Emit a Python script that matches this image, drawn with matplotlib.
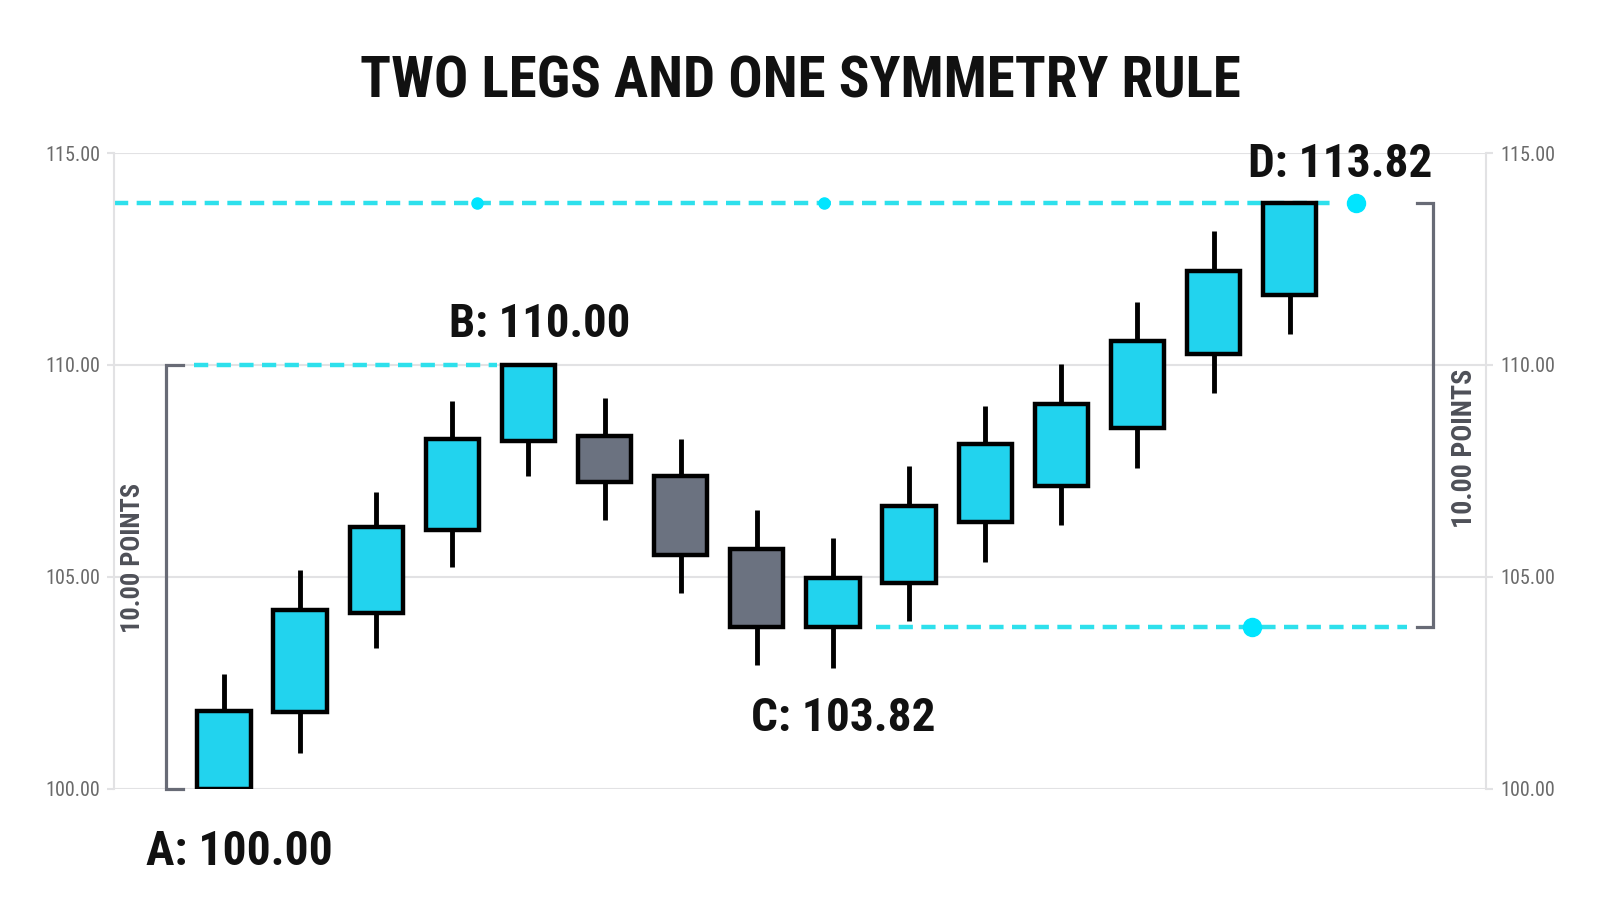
import numpy as np
import matplotlib
matplotlib.use("Agg")
import matplotlib.pyplot as plt
from matplotlib import font_manager

# OHLC for the 15 candles
opens = [100.00, 101.82, 104.16, 106.10, 108.21, 108.33, 107.37, 105.65,
         103.82, 104.86, 106.29, 107.15, 108.52, 110.26, 111.65]
closes = [101.84, 104.23, 106.17, 108.25, 110.00, 107.25, 105.53, 103.82,
          104.98, 106.67, 108.13, 109.09, 110.57, 112.22, 113.82]
highs = [102.70, 105.17, 107.01, 109.14, 110.00, 109.23, 108.25, 106.58,
         105.91, 107.61, 109.04, 110.02, 111.48, 113.16, 113.82]
lows = [100.00, 100.86, 103.33, 105.24, 107.39, 106.34, 104.62, 102.92,
        102.85, 103.95, 105.36, 106.22, 107.58, 109.33, 110.72]

# swing points
point_names = ["A", "B", "C", "D"]
point_values = [100.00, 110.00, 103.82, 113.82]
leg_size = 10.00

yticks = [100, 105, 110, 115]
title = "TWO LEGS AND ONE SYMMETRY RULE"

CYAN = "#22D3EE"
GRAY = "#6B7280"
DASH = "#2EE0EC"
DOT = "#00E5FF"
BRACKET = "#686B76"
GRID = "#E2E2E4"


def pick_condensed():
    """Find a narrow bold face if one is installed."""
    names = {f.name for f in font_manager.fontManager.ttflist}
    for n in ["Roboto Condensed", "Liberation Sans Narrow"]:
        if n in names:
            return {"family": n, "stretch": "normal"}
    for f in font_manager.fontManager.ttflist:
        if f.name == "DejaVu Sans" and "condensed" in str(f.stretch):
            return {"family": "DejaVu Sans", "stretch": "condensed"}
    return {"family": "Roboto", "stretch": "normal"}


cfont = pick_condensed()

fig = plt.figure(figsize=(16, 9.14), dpi=100)
ax = fig.add_axes([0.07125, 0.1368, 0.8575, 0.6958])
ax.set_xlim(-1.445, 16.58)
ax.set_ylim(100, 115)

x = np.arange(len(opens))
o = np.array(opens)
c = np.array(closes)
colors = [CYAN if cc >= oo else GRAY for oo, cc in zip(o, c)]

# wicks, then bodies on top
ax.vlines(x, lows, highs, color="black", lw=3.5, zorder=3)
ax.bar(x, np.abs(c - o), bottom=np.minimum(o, c), width=0.70, color=colors,
       edgecolor="black", linewidth=3.2, zorder=4)

# dashed reference levels
dash_kw = dict(color=DASH, lw=3.2, dashes=(3.2, 1.9), zorder=2,
               solid_capstyle="butt", clip_on=False)
A, B, C, D = point_values
ax.plot([-1.445, 14.63], [D, D], **dash_kw)
ax.plot([3.32, 7.88], [D, D], "o", color=DOT, ms=8, zorder=2)
ax.plot([14.87], [D], "o", color=DOT, ms=13, zorder=5, clip_on=False)
ax.plot([-0.39, 3.59], [B, B], **dash_kw)
ax.plot([8.57, 15.54], [C, C], **dash_kw)
ax.plot([13.5], [C], "o", color=DOT, ms=13, zorder=5)

# brackets for the two legs
br_kw = dict(color=BRACKET, lw=2.3, solid_joinstyle="miter", clip_on=False,
             zorder=3)
ax.plot([-0.545, -0.76, -0.76, -0.545], [A, A, A + leg_size, A + leg_size], **br_kw)
ax.plot([15.67, 15.88, 15.88, 15.67], [C, C, C + leg_size, C + leg_size], **br_kw)

texts = []
t = ax.text(-1.19, 105.45, "%.2f POINTS" % leg_size, rotation=90, ha="center",
            va="center", fontsize=19, fontweight="bold", color="#4E5058", **cfont)
texts.append((t, 153, True))
t = ax.text(16.30, 108.04, "%.2f POINTS" % leg_size, rotation=90, ha="center",
            va="center", fontsize=19, fontweight="bold", color="#4E5058", **cfont)
texts.append((t, 159, True))

# point labels
label_pos = [(0.20, 98.21, 186), (4.15, 110.66, 181),
             (8.14, 101.37, 184), (14.66, 114.43, 184)]
for name, val, (lx, ly, w) in zip(point_names, point_values, label_pos):
    t = ax.text(lx, ly, "%s: %.2f" % (name, val), ha="center", va="baseline",
                fontsize=37, fontweight="bold", color="#111111", clip_on=False,
                zorder=6, **cfont)
    texts.append((t, w, False))

t = fig.text(0.5, 1 - 97 / 914, title, ha="center", va="baseline", fontsize=41,
             fontweight="bold", color="#111111", **cfont)
texts.append((t, 883, False))

# axes styling
ax.set_xticks([])
ax.set_yticks(yticks)
ax.set_yticklabels(["%.2f" % v for v in yticks])
ax.grid(axis="y", color=GRID, lw=1.5, zorder=0)
for s in ["top", "bottom"]:
    ax.spines[s].set_visible(False)
for s in ["left", "right"]:
    ax.spines[s].set_color(GRID)
    ax.spines[s].set_linewidth(1.5)
ax.tick_params(axis="y", left=True, right=True, labelleft=True, labelright=True,
               length=5, width=1.5, color=GRID, pad=5, labelsize=14.5,
               labelcolor="#6A6A6A")
for lab in ax.get_yticklabels():
    lab.set_family(cfont["family"])
    lab.set_stretch(cfont["stretch"])

# bring text widths in line with the picture
fig.canvas.draw()
r = fig.canvas.get_renderer()
for t, target, rotated in texts:
    bb = t.get_window_extent(r)
    size = bb.height if rotated else bb.width
    if abs(size - target) > target * 0.03:
        t.set_fontsize(t.get_fontsize() * target / size)

fig.savefig("out.png", dpi=100, facecolor="white")
